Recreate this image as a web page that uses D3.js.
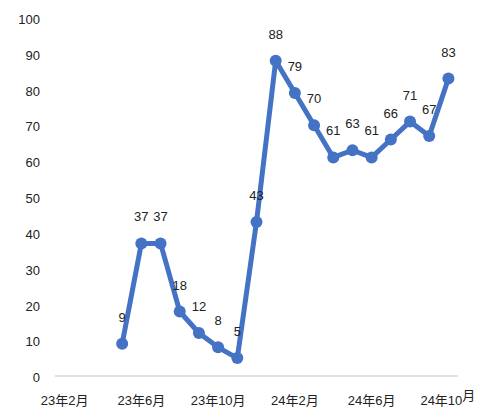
<!DOCTYPE html>
<html><head><meta charset="utf-8">
<script src="https://cdn.jsdelivr.net/npm/d3@7"></script>
<style>
html,body{margin:0;padding:0;background:#fff;}
text{font-family:"Liberation Sans",Arial,"Noto Sans CJK JP",sans-serif;}
</style></head>
<body>
<svg id="chart" width="477" height="414"></svg>
<script>
const months = ["23年2月","23年3月","23年4月","23年5月","23年6月","23年7月","23年8月","23年9月","23年10月","23年11月","23年12月","24年1月","24年2月","24年3月","24年4月","24年5月","24年6月","24年7月","24年8月","24年9月","24年10月"];
const values = [null,null,null,9,37,37,18,12,8,5,43,88,79,70,61,63,61,66,71,67,83];
const yTicks = [0,10,20,30,40,50,60,70,80,90,100];
const xTickLabels = ["23年2月","23年6月","23年10月","24年2月","24年6月","24年10月"];

const svg = d3.select("#chart");
const x = d3.scaleBand().domain(months).range([55,458]);
const cx = m => x(m) + x.bandwidth()/2;
const y = d3.scaleLinear().domain([0,100]).range([376,17.7]);

// baseline
svg.append("line").attr("x1",55).attr("x2",458).attr("y1",y(0)).attr("y2",y(0))
  .attr("stroke","#d9d9d9").attr("stroke-width",1.5);

// y axis labels
const yAxis = d3.axisLeft(y).tickValues(yTicks).tickSize(0).tickPadding(0);
const yg = svg.append("g").attr("transform","translate(40,1.5)").call(yAxis);
yg.select(".domain").remove();
yg.selectAll("text").attr("font-size",13).attr("fill","#222").attr("font-family",null);

// x axis labels
const xAxis = d3.axisBottom(x).tickValues(xTickLabels).tickSize(0).tickPadding(0);
const xg = svg.append("g").attr("transform","translate(0,396)").call(xAxis);
xg.select(".domain").remove();
xg.selectAll("text").attr("font-size",13).attr("fill","#222").attr("font-family",null)
  .each(function(d){
    if(d==="24年10月"){
      const t=d3.select(this); t.text(null).attr("text-anchor","start").attr("x",-28);
      t.append("tspan").text("24年10");
      t.append("tspan").attr("dy",-5).text("月");
    }
  });

const pts = months.map((m,i)=>({m, v: values[i]})).filter(d=>d.v!==null);
const line = d3.line().x(d=>cx(d.m)).y(d=>y(d.v));
svg.append("path").datum(pts).attr("d",line).attr("fill","none")
  .attr("stroke","#4472C4").attr("stroke-width",5).attr("stroke-linejoin","round");
svg.selectAll("circle.pt").data(pts).enter().append("circle").attr("class","pt")
  .attr("cx",d=>cx(d.m)).attr("cy",d=>y(d.v)).attr("r",6).attr("fill","#4472C4");
svg.selectAll("text.lbl").data(pts).enter().append("text").attr("class","lbl")
  .attr("x",d=>cx(d.m)).attr("y",d=>y(d.v)-22).attr("text-anchor","middle")
  .attr("font-size",13).attr("fill","#222").text(d=>d.v);
</script>
</body></html>
